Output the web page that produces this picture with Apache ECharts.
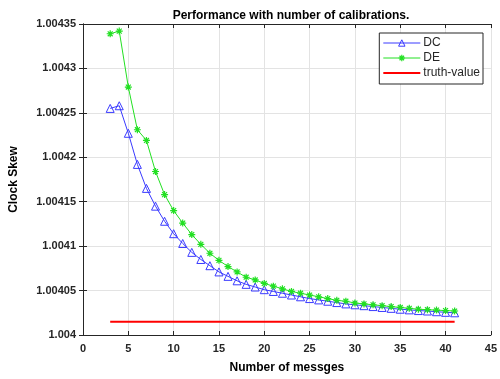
<!DOCTYPE html>
<html>
<head>
<meta charset="utf-8">
<script src="https://cdn.jsdelivr.net/npm/echarts@6/dist/echarts.min.js"></script>
<style>
  html, body { margin: 0; padding: 0; background: #fff; }
  #chart { width: 500px; height: 379px; }
</style>
</head>
<body>
<div id="chart"></div>
<script>
// number of messages (x)
const messages = [3, 4, 5, 6, 7, 8, 9, 10, 11, 12, 13, 14, 15, 16, 17, 18, 19, 20, 21, 22,
  23, 24, 25, 26, 27, 28, 29, 30, 31, 32, 33, 34, 35, 36, 37, 38, 39, 40, 41];

const dcValues = [1.004255, 1.004258, 1.004227, 1.004192, 1.004165, 1.004145, 1.004128, 1.004114,
  1.004103, 1.004093, 1.004085, 1.004078, 1.004071, 1.004066, 1.004061, 1.004057, 1.004054,
  1.004051, 1.004049, 1.004047, 1.004045, 1.004043, 1.004041, 1.0040395, 1.004038, 1.0040365,
  1.004035, 1.004034, 1.004033, 1.004032, 1.004031, 1.00403, 1.004029, 1.0040283, 1.0040275,
  1.004027, 1.0040262, 1.0040255, 1.004025];

const deValues = [1.004339, 1.004342, 1.004279, 1.004231, 1.004219, 1.004184, 1.004158, 1.00414,
  1.004126, 1.004113, 1.004102, 1.004092, 1.004084, 1.004077, 1.004071, 1.004065, 1.004062,
  1.004058, 1.004055, 1.004052, 1.004049, 1.004047, 1.004045, 1.004043, 1.004041, 1.004039,
  1.004038, 1.004036, 1.004035, 1.004034, 1.004033, 1.004032, 1.004031, 1.00403, 1.004029,
  1.0040285, 1.004028, 1.0040275, 1.004027];

const truthX = [3, 41];
const truthValue = 1.004015;

const xTicks = { min: 0, max: 45, interval: 5 };
const yTicks = { min: 1.004, max: 1.00435, interval: 0.00005 };

const axisColor = '#262626';
const gridColor = '#e3e3e3';
const font = 'Liberation Sans, Arial, sans-serif';
const blue = '#3a3aff';
const green = '#22e022';

const starPath = 'path://M5 0 L5 10 M0 5 L10 5 M1.5 1.5 L8.5 8.5 M8.5 1.5 L1.5 8.5';

let chart = echarts.init(document.getElementById('chart'));

let baseAxis = {
  axisLine: { show: true, lineStyle: { color: axisColor, width: 1 } },
  axisTick: { show: true, inside: true, length: 4, lineStyle: { color: axisColor } },
  splitLine: { show: false }
};

let option = {
  animation: false,
  title: {
    text: 'Performance with number of calibrations.',
    left: 286,
    textAlign: 'center',
    top: 5,
    textStyle: { fontFamily: font, fontSize: 12, fontWeight: 'bold', color: '#000' }
  },
  legend: {
    orient: 'vertical',
    right: 17,
    top: 33,
    itemWidth: 37,
    itemHeight: 8,
    itemGap: 3,
    padding: [4, 3, 5, 3],
    borderColor: axisColor,
    borderWidth: 1,
    backgroundColor: '#fff',
    textStyle: { fontFamily: font, fontSize: 12, color: '#262626', padding: [0, 0, 0, -2] },
    data: [
      {
        name: 'DC',
        lineStyle: { width: 1, color: blue },
        itemStyle: { color: 'rgba(255,255,255,0)', borderColor: blue, borderWidth: 1 }
      },
      {
        name: 'DE',
        lineStyle: { width: 1, color: green },
        itemStyle: { color: 'rgba(255,255,255,0)', borderColor: green, borderWidth: 1.2 }
      },
      {
        name: 'truth-value',
        lineStyle: { width: 2, color: '#ff0000' },
        itemStyle: { opacity: 0 }
      }
    ]
  },
  grid: { left: 80, right: 8, top: 24, bottom: 42 },
  xAxis: [
    Object.assign({}, baseAxis, {
      type: 'value',
      min: xTicks.min, max: xTicks.max, interval: xTicks.interval,
      name: 'Number of messges',
      nameLocation: 'middle',
      nameGap: 27,
      nameTextStyle: { fontFamily: font, fontSize: 12, fontWeight: 'bold', color: '#000' },
      axisLabel: { fontFamily: font, fontSize: 11, fontWeight: 'bold', color: axisColor, margin: 8 },
      splitLine: { show: true, lineStyle: { color: gridColor } }
    }),
    Object.assign({}, baseAxis, {
      type: 'value', position: 'top',
      min: xTicks.min, max: xTicks.max, interval: xTicks.interval,
      axisLabel: { show: false }
    })
  ],
  yAxis: [
    Object.assign({}, baseAxis, {
      type: 'value',
      min: yTicks.min, max: yTicks.max, interval: yTicks.interval,
      name: 'Clock Skew',
      nameLocation: 'middle',
      nameGap: 63,
      nameTextStyle: { fontFamily: font, fontSize: 12, fontWeight: 'bold', color: '#000' },
      axisLabel: {
        fontFamily: font, fontSize: 11, fontWeight: 'bold', color: axisColor, margin: 7,
        formatter: v => String(parseFloat(v.toFixed(5)))
      },
      splitLine: { show: true, lineStyle: { color: gridColor } }
    }),
    Object.assign({}, baseAxis, {
      type: 'value', position: 'right',
      min: yTicks.min, max: yTicks.max, interval: yTicks.interval,
      axisLabel: { show: false }
    })
  ],
  series: [
    {
      name: 'DC',
      type: 'line',
      data: messages.map((x, i) => [x, dcValues[i]]),
      symbol: 'triangle',
      symbolSize: 8,
      lineStyle: { color: blue, width: 1 },
      itemStyle: { color: 'rgba(255,255,255,0)', borderColor: blue, borderWidth: 1 },
      z: 3
    },
    {
      name: 'DE',
      type: 'line',
      data: messages.map((x, i) => [x, deValues[i]]),
      symbol: starPath,
      symbolSize: 7,
      lineStyle: { color: green, width: 1 },
      itemStyle: { color: 'rgba(255,255,255,0)', borderColor: green, borderWidth: 1.2 },
      z: 4
    },
    {
      name: 'truth-value',
      type: 'line',
      data: truthX.map(x => [x, truthValue]),
      symbol: 'none',
      lineStyle: { color: '#ff0000', width: 2 },
      itemStyle: { color: '#ff0000' },
      z: 2
    }
  ]
};

chart.setOption(option);
</script>
</body>
</html>
